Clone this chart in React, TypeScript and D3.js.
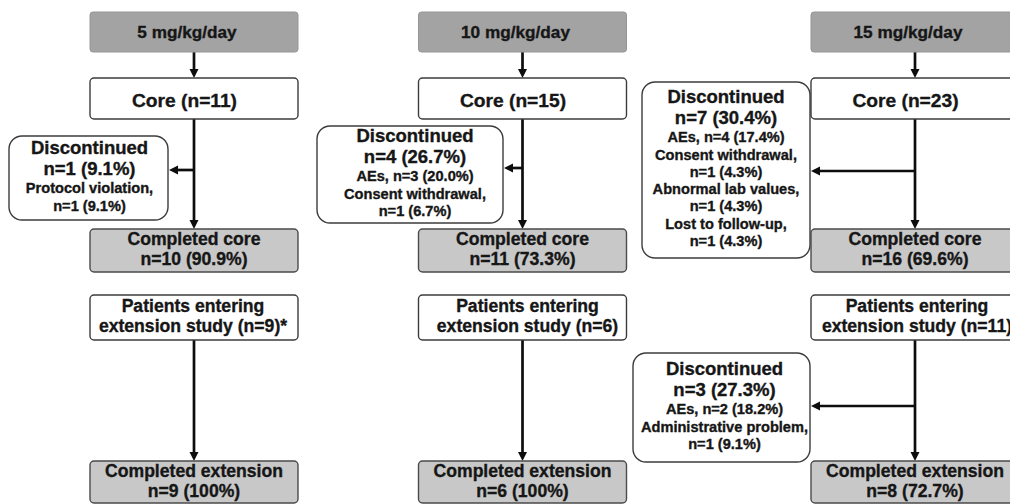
import React, { useEffect, useRef } from "react";
import * as d3 from "d3";

// ---------- DATA ----------
const arms = ["5 mg/kg/day", "10 mg/kg/day", "15 mg/kg/day"];
const coreN = [11, 15, 23];
const coreDiscN = [1, 4, 7];
const coreDiscPct = ["9.1%", "26.7%", "30.4%"];
const coreDiscReasons = [
  ["Protocol violation,", "n=1 (9.1%)"],
  ["AEs, n=3 (20.0%)", "Consent withdrawal,", "n=1 (6.7%)"],
  [
    "AEs, n=4 (17.4%)",
    "Consent withdrawal,",
    "n=1 (4.3%)",
    "Abnormal lab values,",
    "n=1 (4.3%)",
    "Lost to follow-up,",
    "n=1 (4.3%)",
  ],
];
const completedCoreN = [10, 11, 16];
const completedCorePct = ["90.9%", "73.3%", "69.6%"];
const extN = [9, 6, 11];
const extNote = ["*", "", ""];
const extDiscN: (number | null)[] = [null, null, 3];
const extDiscPct: (string | null)[] = [null, null, "27.3%"];
const extDiscReasons = [[], [], ["AEs, n=2 (18.2%)", "Administrative problem,", "n=1 (9.1%)"]];
const completedExtN = [9, 6, 8];
const completedExtPct = ["100%", "100%", "72.7%"];

// ---------- LAYOUT ----------
const W = 1010;
const H = 504;
const BOX_W = 208;
const rows = {
  header: [12, 52],
  core: [78, 119],
  compCore: [229, 272],
  patients: [295, 340],
  compExt: [461, 503],
};
const patientsDx = [-1, 5, 2];
const coreDiscBox = [
  { x0: 9, x1: 168, y0: 136, y1: 220, ay: 170, dx: 1 },
  { x0: 317, x1: 503, y0: 126, y1: 223, ay: 168, dx: 5 },
  { x0: 642, x1: 810, y0: 82, y1: 258, ay: 171, dx: 0 },
];
const extDiscBox = [null, null, { x0: 633, x1: 810, y0: 353, y1: 462, ay: 406, dx: 3 }];

const FONT = "'Liberation Sans', Arial, Helvetica, sans-serif";
const TEXT = "#161616";
const HEADER_FILL = "#a3a3a3";
const GRAY_FILL = "#c8c8c8";
const BORDER = "#3c3c3c";

export default function App() {
  const ref = useRef<SVGSVGElement | null>(null);

  useEffect(() => {
    document.body.style.margin = "0";
    const svg = d3.select(ref.current);
    svg.selectAll("*").remove();

    const xc = d3.scaleOrdinal<string, number>().domain(arms).range([194, 522.5, 915]);

    const g = svg.append("g");

    const box = (
      x0: number,
      y0: number,
      w: number,
      h: number,
      fill: string,
      stroke: string,
      r: number,
      sw = 1.4
    ) => {
      g.append("rect")
        .attr("x", x0)
        .attr("y", y0)
        .attr("width", w)
        .attr("height", h)
        .attr("rx", r)
        .attr("ry", r)
        .attr("fill", fill)
        .attr("stroke", stroke)
        .attr("stroke-width", sw);
    };

    const text = (t: string, x: number, y: number, size: number) => {
      g.append("text")
        .attr("x", x)
        .attr("y", y)
        .attr("text-anchor", "middle")
        .attr("font-family", FONT)
        .attr("font-weight", "bold")
        .attr("font-size", size)
        .attr("fill", TEXT)
        .attr("stroke", TEXT)
        .attr("stroke-width", 0.35)
        .text(t);
    };

    const arrow = (x1: number, y1: number, x2: number, y2: number) => {
      const len = Math.hypot(x2 - x1, y2 - y1);
      const ux = (x2 - x1) / len;
      const uy = (y2 - y1) / len;
      const hl = 9;
      const hw = 4.5;
      g.append("line")
        .attr("x1", x1)
        .attr("y1", y1)
        .attr("x2", x2 - ux * (hl - 1))
        .attr("y2", y2 - uy * (hl - 1))
        .attr("stroke", "#0d0d0d")
        .attr("stroke-width", 2.7);
      const bx = x2 - ux * hl;
      const by = y2 - uy * hl;
      const pts = [
        [x2, y2],
        [bx - uy * hw, by + ux * hw],
        [bx + uy * hw, by - ux * hw],
      ];
      g.append("polygon")
        .attr("points", pts.map((p) => p.join(",")).join(" "))
        .attr("fill", "#0d0d0d");
    };

    const discBlock = (
      lines: { t: string; main: boolean }[],
      b: { x0: number; x1: number; y0: number; y1: number; dx: number }
    ) => {
      const offs = [0];
      for (let i = 1; i < lines.length; i++) {
        const gap = lines[i].main ? 20.5 : lines[i - 1].main ? 18.5 : 17.3;
        offs.push(offs[i - 1] + gap);
      }
      const top = -0.716 * 18.5;
      const bottom = offs[offs.length - 1];
      const yc = (b.y0 + b.y1) / 2 - 2;
      const start = yc - (top + bottom) / 2;
      const cx = (b.x0 + b.x1) / 2 + b.dx;
      lines.forEach((l, i) => text(l.t, cx, start + offs[i], l.main ? 18.5 : 14.6));
    };

    arms.forEach((arm, i) => {
      const cx = xc(arm);
      const x0 = cx - BOX_W / 2;

      // connectors
      arrow(cx, rows.header[1], cx, rows.core[0]);
      arrow(cx, rows.core[1], cx, rows.compCore[0]);
      const cb = coreDiscBox[i];
      arrow(cx, cb.ay, cb.x1 + 1, cb.ay);
      arrow(cx, rows.patients[1], cx, rows.compExt[0]);
      const eb = extDiscBox[i];
      if (eb) arrow(cx, eb.ay, eb.x1 + 1, eb.ay);

      // header
      const [hy0, hy1] = rows.header;
      box(x0, hy0, BOX_W, hy1 - hy0, HEADER_FILL, "#969696", 3, 1);
      text(arm, cx - 7, (hy0 + hy1) / 2 + 5.5, 17.2);

      // core
      const [cy0, cy1] = rows.core;
      box(x0, cy0, BOX_W, cy1 - cy0, "#ffffff", BORDER, 4);
      text(`Core (n=${coreN[i]})`, cx - 9.5, (cy0 + cy1) / 2 + 8.5, 19.2);

      // core discontinued
      box(cb.x0, cb.y0, cb.x1 - cb.x0, cb.y1 - cb.y0, "#ffffff", BORDER, 13);
      discBlock(
        [
          { t: "Discontinued", main: true },
          { t: `n=${coreDiscN[i]} (${coreDiscPct[i]})`, main: true },
          ...coreDiscReasons[i].map((t) => ({ t, main: false })),
        ],
        cb
      );

      // completed core
      const [ccy0, ccy1] = rows.compCore;
      box(x0, ccy0, BOX_W, ccy1 - ccy0, GRAY_FILL, "#4a4a4a", 4);
      const ccm = (ccy0 + ccy1) / 2;
      text("Completed core", cx, ccm - 5.3, 17.6);
      text(`n=${completedCoreN[i]} (${completedCorePct[i]})`, cx, ccm + 14.7, 17.6);

      // patients entering extension
      const [py0, py1] = rows.patients;
      box(x0, py0, BOX_W, py1 - py0, "#ffffff", BORDER, 4);
      const pm = (py0 + py1) / 2;
      text("Patients entering", cx + patientsDx[i], pm - 5.5, 17.6);
      text(`extension study (n=${extN[i]})${extNote[i]}`, cx + patientsDx[i], pm + 14.5, 17.6);

      // extension discontinued
      if (eb && extDiscN[i] !== null) {
        box(eb.x0, eb.y0, eb.x1 - eb.x0, eb.y1 - eb.y0, "#ffffff", BORDER, 13);
        discBlock(
          [
            { t: "Discontinued", main: true },
            { t: `n=${extDiscN[i]} (${extDiscPct[i]})`, main: true },
            ...extDiscReasons[i].map((t) => ({ t, main: false })),
          ],
          eb
        );
      }

      // completed extension
      const [ey0, ey1] = rows.compExt;
      box(x0, ey0, BOX_W, ey1 - ey0, GRAY_FILL, "#4a4a4a", 4);
      const em = (ey0 + ey1) / 2;
      text("Completed extension", cx, em - 5.3, 17.6);
      text(`n=${completedExtN[i]} (${completedExtPct[i]})`, cx, em + 14.7, 17.6);
    });
  }, []);

  return (
    <svg
      ref={ref}
      width={W}
      height={H}
      viewBox={`0 0 ${W} ${H}`}
      style={{ position: "absolute", left: 0, top: 0, background: "#ffffff", display: "block" }}
    />
  );
}
